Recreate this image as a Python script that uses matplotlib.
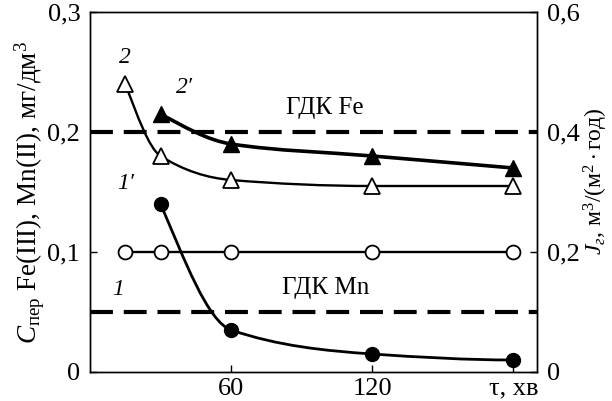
"""
Concentration of Fe(III), Mn(II) in permeate and permeate flux
vs. filtration time, with the MPC (ГДК) levels.
"""

import numpy as np
import matplotlib.pyplot as plt
from matplotlib.path import Path
from matplotlib.patches import PathPatch

plt.rcParams['font.family'] = ['Liberation Serif', 'DejaVu Serif']
plt.rcParams['mathtext.fontset'] = 'custom'
plt.rcParams['mathtext.rm'] = 'Liberation Serif'
plt.rcParams['mathtext.it'] = 'Liberation Serif:italic'

# filtration time, min
t_conc = [30, 60, 120, 180]
t_flux = [15, 30, 60, 120, 180]

# permeate concentration, mg/dm3 (left axis)
c_fe = [0.215, 0.19, 0.18, 0.17]        # 2'
c_mn = [0.14, 0.035, 0.015, 0.01]       # 1'

# permeate flux, m3/(m2*year) (right axis)
j_fe = [0.48, 0.36, 0.32, 0.31, 0.31]   # 2
j_mn = [0.2, 0.2, 0.2, 0.2, 0.2]        # 1

mpc_fe = 0.2
mpc_mn = 0.05

x_ticks = [60, 120, 180]
x_ticklabels = ["60", "120", "τ, хв"]
left_ticks = [0, 0.1, 0.2, 0.3]
left_ticklabels = ["0", "0,1", "0,2", "0,3"]
right_ticks = [0, 0.2, 0.4, 0.6]
right_ticklabels = ["0", "0,2", "0,4", "0,6"]


def monotone_slopes(x, y):
    """Fritsch-Carlson tangents for a monotone cubic curve."""
    x = np.asarray(x, float)
    y = np.asarray(y, float)
    h = np.diff(x)
    d = np.diff(y) / h
    m = np.zeros_like(y)
    for k in range(1, len(x) - 1):
        if d[k - 1] * d[k] > 0:
            w1 = 2 * h[k] + h[k - 1]
            w2 = h[k] + 2 * h[k - 1]
            m[k] = (w1 + w2) / (w1 / d[k - 1] + w2 / d[k])
    if len(x) > 2:
        m0 = ((2 * h[0] + h[1]) * d[0] - h[0] * d[1]) / (h[0] + h[1])
        m[0] = m0 if m0 * d[0] > 0 else 0.0
        mn = ((2 * h[-1] + h[-2]) * d[-1] - h[-1] * d[-2]) / (h[-1] + h[-2])
        m[-1] = mn if mn * d[-1] > 0 else 0.0
    else:
        m[:] = d[0]
    return m


def smooth_path(x, y):
    """Bezier path through the points (cubic Hermite form)."""
    m = monotone_slopes(x, y)
    verts = [(x[0], y[0])]
    codes = [Path.MOVETO]
    for k in range(len(x) - 1):
        h = x[k + 1] - x[k]
        verts += [(x[k] + h / 3, y[k] + m[k] * h / 3),
                  (x[k + 1] - h / 3, y[k + 1] - m[k + 1] * h / 3),
                  (x[k + 1], y[k + 1])]
        codes += [Path.CURVE4] * 3
    return Path(verts, codes)


fig = plt.figure(figsize=(6.12, 4.01), dpi=100)
ax = fig.add_axes([90 / 612, 1 - 372 / 401, 447 / 612, 360 / 401])
ax2 = ax.twinx()

ax.set_xlim(0, 190)
ax.set_ylim(0, 0.3)
ax2.set_ylim(0, 0.6)

dash = dict(color='black', lw=3.0, dashes=(5.5, 2.6), zorder=2)
ax.axhline(mpc_fe, **dash)
ax.axhline(mpc_mn, **dash)
ax.text(100, 0.22, "ГДК Fe", fontsize=18, ha='center', va='center')
ax.text(100, 0.07, "ГДК Mn", fontsize=18, ha='center', va='center')

# concentrations
ax.add_patch(PathPatch(smooth_path(t_conc, c_fe), fill=False, lw=2.6, ec='black', zorder=3))
ax.plot(t_conc, c_fe, ls='none', marker='^', ms=11, color='black', zorder=4)
ax.add_patch(PathPatch(smooth_path(t_conc, c_mn), fill=False, lw=2.0, ec='black', zorder=3))
ax.plot(t_conc, c_mn, ls='none', marker='o', ms=10, color='black', zorder=4)

# fluxes
ax2.add_patch(PathPatch(smooth_path(t_flux, j_fe), fill=False, lw=1.7, ec='black', zorder=3))
ax2.plot(t_flux, j_fe, ls='none', marker='^', ms=11, mfc='white', mec='black', mew=1.3, zorder=4)
ax2.plot(t_flux, j_mn, '-', lw=1.7, color='black', marker='o', ms=10,
         mfc='white', mec='black', mew=1.3, zorder=4)

# curve numbers
ax.text(15, 0.262, "2", fontsize=17, style='italic', ha='center', va='center')
ax.text(40, 0.237, "2′", fontsize=17, style='italic', ha='center', va='center')
ax.text(15, 0.157, "1′", fontsize=17, style='italic', ha='center', va='center')
ax.text(12, 0.069, "1", fontsize=17, style='italic', ha='center', va='center')

ax.set_xticks(x_ticks)
ax.set_xticklabels(x_ticklabels)
ax.set_yticks(left_ticks)
ax.set_yticklabels(left_ticklabels)
ax2.set_yticks(right_ticks)
ax2.set_yticklabels(right_ticklabels)
ax.tick_params(direction='in', length=5, width=1, labelsize=19, pad=7)
ax.tick_params(axis='x', pad=4)
ax2.tick_params(direction='in', length=5, width=1, labelsize=19, pad=7)

for a in (ax, ax2):
    for sp in a.spines.values():
        sp.set_linewidth(1.0)

ax.set_ylabel(r"$C_{\mathrm{пер}}$ Fe(III), Mn(II), мг/дм$^3$", fontsize=19.5)
ax.yaxis.set_label_coords(-0.096, 0.5)
ax2.set_ylabel(r"$J_{г}$, м$^3$/(м$^2\cdot$год)", fontsize=17, rotation=90)
ax2.yaxis.set_label_coords(1.1, 0.53)

fig.savefig("out.png", dpi=100)
plt.close(fig)
